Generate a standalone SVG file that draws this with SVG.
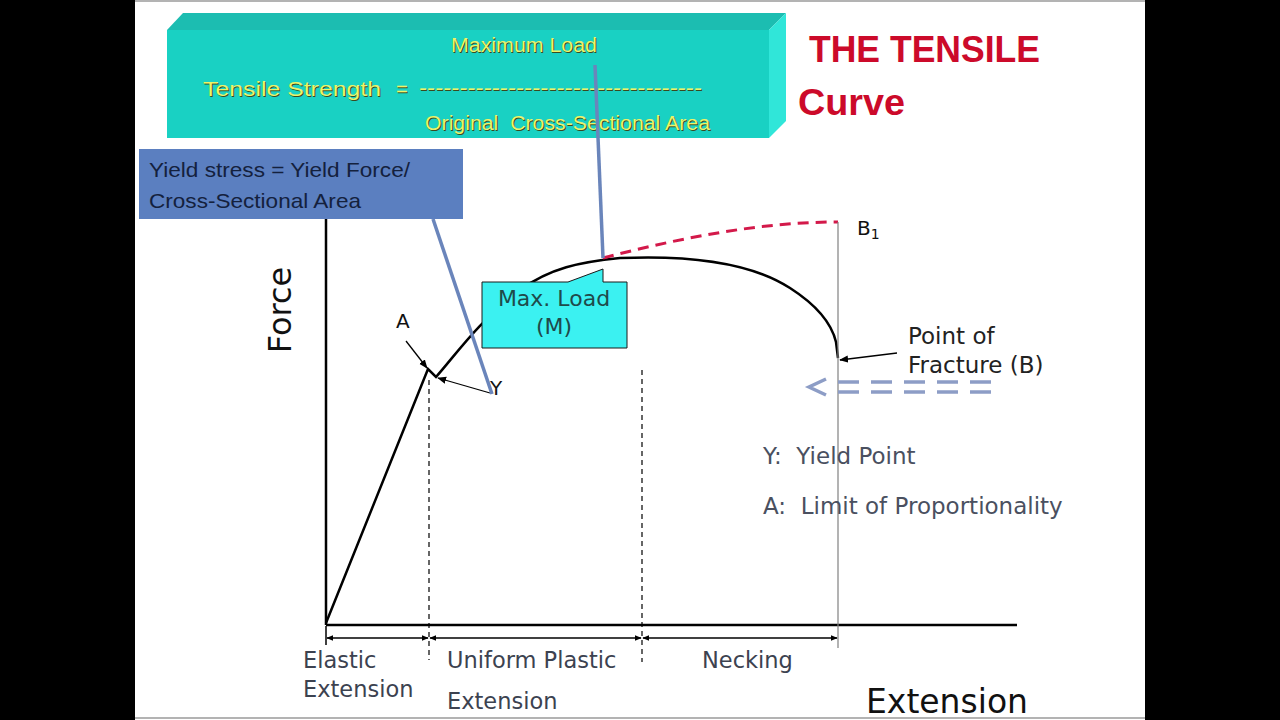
<svg xmlns="http://www.w3.org/2000/svg" width="1280" height="720" viewBox="0 0 1280 720">
<defs>
<style>
.lbl{font-family:"DejaVu Sans",Verdana,sans-serif;}
.gray{fill:#3c4250;font-size:22.5px;}
.ylw{font-family:"Liberation Sans",Arial,sans-serif;font-size:20px;fill:#ecf36a;}
.shd{font-family:"Liberation Sans",Arial,sans-serif;font-size:20px;fill:#3a4a20;}
.ax{stroke:#000;stroke-width:2.5;fill:none;}
.thin{stroke:#000;stroke-width:1.3;fill:none;}
.blue{stroke:#6a85bb;stroke-width:3.5;fill:none;}
</style>
<marker id="ah" viewBox="0 0 10 10" refX="9" refY="5" markerWidth="7" markerHeight="7" orient="auto-start-reverse" markerUnits="userSpaceOnUse">
<path d="M0,1 L10,5 L0,9 z" fill="#000"/>
</marker>
<marker id="ah2" viewBox="0 0 10 10" refX="9" refY="5" markerWidth="9" markerHeight="9" orient="auto-start-reverse" markerUnits="userSpaceOnUse">
<path d="M0,1 L10,5 L0,9 z" fill="#000"/>
</marker>
</defs>
<rect x="0" y="0" width="1280" height="720" fill="#000"/>
<rect x="135" y="0" width="1010" height="720" fill="#fff"/>
<line x1="135" y1="1" x2="1145" y2="1" stroke="#9a9a9a" stroke-width="1.5"/>
<line x1="135" y1="718" x2="1145" y2="718" stroke="#9a9a9a" stroke-width="1.5"/>

<g id="tensile-box">
<polygon points="167,30 183,13 786,13 769,30" fill="#1cbdb1"/>
<polygon points="769,30 786,13 786,121 769,138" fill="#30e6d9"/>
<rect x="167" y="30" width="602" height="108" fill="#19d1c3"/>
<text class="shd" x="452" y="53" textLength="146" lengthAdjust="spacingAndGlyphs">Maximum Load</text>
<text class="ylw" x="451" y="52" textLength="146" lengthAdjust="spacingAndGlyphs">Maximum Load</text>
<text class="shd" x="204" y="97" font-size="21" textLength="178" lengthAdjust="spacingAndGlyphs">Tensile Strength</text>
<text class="ylw" x="203" y="96" font-size="21" textLength="178" lengthAdjust="spacingAndGlyphs">Tensile Strength</text>
<text class="shd" x="397" y="97">=</text>
<text class="ylw" x="396" y="96">=</text>
<text class="shd" x="420" y="96" textLength="283" lengthAdjust="spacingAndGlyphs">-----------------------------------</text>
<text class="ylw" x="419" y="95" textLength="283" lengthAdjust="spacingAndGlyphs">-----------------------------------</text>
<text class="shd" x="426" y="131" xml:space="preserve" textLength="285" lengthAdjust="spacingAndGlyphs">Original  Cross-Sectional Area</text>
<text class="ylw" x="425" y="130" xml:space="preserve" textLength="285" lengthAdjust="spacingAndGlyphs">Original  Cross-Sectional Area</text>
</g>

<g id="title">
<text x="809" y="62" font-family="'Liberation Sans',Arial,sans-serif" font-weight="bold" font-size="37" fill="#cc0a2a" textLength="231" lengthAdjust="spacingAndGlyphs">THE TENSILE</text>
<text x="798" y="115" font-family="'Liberation Sans',Arial,sans-serif" font-weight="bold" font-size="37" fill="#cc0a2a" textLength="107" lengthAdjust="spacingAndGlyphs">Curve</text>
</g>

<g id="connectors">
<line class="ax" x1="326" y1="219" x2="326" y2="625"/>
<line class="ax" x1="326" y1="625" x2="1017" y2="625"/>
<path class="ax" d="M326,623 L428,369 L436,377 C458,352 478,322 520,290 C550,268 580,262 620,258 C690,255 750,262 790,288 C818,306 832,325 836,342 L838,358"/>
<path d="M603,258 C680,238 760,222 838,222" fill="none" stroke="#d3194a" stroke-width="3" stroke-dasharray="11,7"/>
<line x1="838" y1="222" x2="838" y2="648" stroke="#808080" stroke-width="1.2"/>
<line x1="429" y1="380" x2="429" y2="660" stroke="#000" stroke-width="1.2" stroke-dasharray="5,4"/>
<line x1="642" y1="370" x2="642" y2="662" stroke="#000" stroke-width="1.2" stroke-dasharray="5,4"/>
<line x1="326" y1="626" x2="326" y2="645" stroke="#000" stroke-width="1.5"/>
<line class="thin" x1="327" y1="638" x2="428" y2="638" marker-start="url(#ah)" marker-end="url(#ah)"/>
<line class="thin" x1="430" y1="638" x2="641" y2="638" marker-start="url(#ah)" marker-end="url(#ah)"/>
<line class="thin" x1="643" y1="638" x2="837" y2="638" marker-start="url(#ah)" marker-end="url(#ah)"/>
<line class="thin" x1="406" y1="341" x2="427" y2="368" marker-end="url(#ah2)"/>
<line class="thin" x1="490" y1="393" x2="438" y2="378" marker-end="url(#ah2)"/>
<line class="thin" x1="897" y1="353" x2="840" y2="360" marker-end="url(#ah2)"/>
<line class="blue" x1="433" y1="219" x2="492" y2="394"/>
<line class="blue" x1="595" y1="65" x2="603" y2="258"/>
<g stroke="#8d9dc6" stroke-width="3.5" fill="none">
<polyline points="826,379 809,387 826,395"/>
<line x1="838" y1="382" x2="992" y2="382" stroke-dasharray="21,12"/>
<line x1="838" y1="392" x2="992" y2="392" stroke-dasharray="21,12"/>
</g>
</g>

<g id="yield-box">
<rect x="139" y="149" width="324" height="70" fill="#5b7fc0"/>
<text x="149" y="177" font-family="'Liberation Sans',Arial,sans-serif" font-size="21" fill="#14213d" textLength="261" lengthAdjust="spacingAndGlyphs">Yield stress = Yield Force/</text>
<text x="149" y="208" font-family="'Liberation Sans',Arial,sans-serif" font-size="21" fill="#14213d" textLength="212" lengthAdjust="spacingAndGlyphs">Cross-Sectional Area</text>
</g>

<g id="max-load">
<path d="M482,282 L568,282 L603,269 L603,282 L627,282 L627,348 L482,348 Z" fill="#3bf1f1" stroke="#1a1a1a" stroke-width="1"/>
<text class="lbl" x="554" y="306" text-anchor="middle" font-size="22" fill="#1f4a4a">Max. Load</text>
<text class="lbl" x="554" y="334" text-anchor="middle" font-size="22" fill="#1f4a4a">(M)</text>
</g>

<g id="point-labels">
<text class="lbl" x="396" y="328" font-size="20" fill="#111">A</text>
<text class="lbl" x="490" y="395" font-size="20" fill="#111">Y</text>
<text class="lbl" x="857" y="235" font-size="20" fill="#111">B<tspan font-size="14" dy="4">1</tspan></text>
<text class="lbl" x="908" y="344" font-size="23" fill="#222">Point of</text>
<text class="lbl" x="908" y="373" font-size="23" fill="#222">Fracture (B)</text>
</g>

<g id="legend">
<text class="lbl" x="763" y="464" font-size="23" fill="#4a5060" xml:space="preserve">Y:  Yield Point</text>
<text class="lbl" x="763" y="514" font-size="23" fill="#4a5060" xml:space="preserve">A:  Limit of Proportionality</text>
</g>

<g id="axis-labels">
<text class="lbl" transform="translate(291,310) rotate(-90)" text-anchor="middle" font-size="32" fill="#111">Force</text>
<text class="lbl" x="866" y="713" font-size="33" fill="#111">Extension</text>
<text class="lbl gray" x="303" y="668">Elastic</text>
<text class="lbl gray" x="303" y="697">Extension</text>
<text class="lbl gray" x="447" y="668" font-size="23">Uniform Plastic</text>
<text class="lbl gray" x="447" y="709">Extension</text>
<text class="lbl gray" x="702" y="668">Necking</text>
</g>
</svg>
